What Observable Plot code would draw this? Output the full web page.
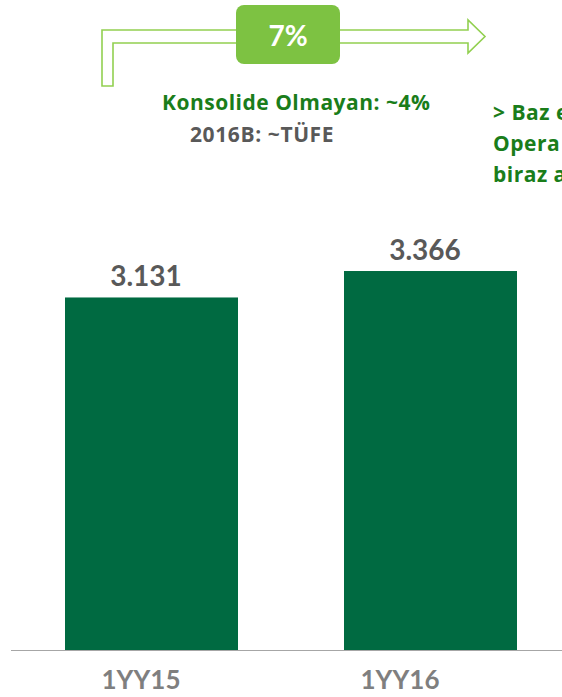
<!DOCTYPE html>
<html>
<head>
<meta charset="utf-8">
<script src="https://cdn.jsdelivr.net/npm/d3@7"></script>
<script src="https://cdn.jsdelivr.net/npm/@observablehq/plot@0.6"></script>
<style>
  html, body { margin: 0; padding: 0; background: #fff; overflow: hidden; }
  #wrap { position: relative; width: 562px; height: 697px; overflow: hidden; font-family: "Open Sans", Lato, sans-serif; }
  #chart { position: absolute; left: 0; top: 0; }
  .ann { position: absolute; font-weight: bold; white-space: nowrap; }
</style>
</head>
<body>
<div id="wrap">
  <div id="chart"></div>
  <svg id="arrow" width="562" height="100" style="position:absolute;left:0;top:0">
    <path d="M102,86 V30 H468 V20 L485,36.5 L468,53 V43 H113 V86 Z" fill="#fff" stroke="#92d050" stroke-width="1.6"/>
    <rect x="236" y="5" width="104" height="59" rx="8" fill="#7dc242"/>
    <text x="288" y="35" fill="#fff" font-family="Lato, sans-serif" font-weight="bold" font-size="28" text-anchor="middle" dominant-baseline="central">7%</text>
  </svg>
  <div class="ann" style="left:162px;top:88px;font-size:21px;letter-spacing:0.5px;line-height:28px;color:#1a7d1a">Konsolide Olmayan: ~4%</div>
  <div class="ann" style="left:190px;top:120px;font-size:21px;letter-spacing:0.6px;line-height:28px;color:#595959">2016B: ~TÜFE</div>
  <div class="ann" style="left:493px;top:97px;font-size:21px;letter-spacing:0.5px;line-height:31px;color:#1a7d1a">&gt; Baz e<br>Opera<br>biraz a</div>
</div>
<script>
const categories = ["1YY15", "1YY16"];
const values = [3131, 3366];
const valueLabels = ["3.131", "3.366"];

const data = categories.map((c, i) => ({cat: c, value: values[i], label: valueLabels[i]}));

const axisStyle = {tickSize: 0, tickPadding: 20, fontSize: 26, fontWeight: "bold", color: "#7f7f7f", label: null};

const chart = Plot.plot({
  width: 562,
  height: 697,
  marginTop: 0,
  marginBottom: 47,
  marginLeft: 11,
  marginRight: 0,
  style: {fontFamily: "Lato, 'Open Sans', sans-serif", background: "transparent"},
  x: {domain: categories, paddingInner: 0.3786, paddingOuter: 0.1733, align: 0.546, label: null, axis: null},
  y: {domain: [0, 5773], axis: null},
  marks: [
    Plot.barY(data, {x: "cat", y: "value", fill: "#006a41"}),
    Plot.ruleY([0], {stroke: "#a6a6a6", strokeWidth: 1.2}),
    Plot.text(data, {x: "cat", y: "value", text: "label", dx: -6, dy: -12, lineAnchor: "bottom", fill: "#595959", fontSize: 28, fontWeight: "bold"}),
    Plot.axisX({...axisStyle, ticks: [categories[0]], dx: -11}),
    Plot.axisX({...axisStyle, ticks: [categories[1]], dx: -31})
  ]
});
document.getElementById("chart").appendChild(chart);
</script>
</body>
</html>
